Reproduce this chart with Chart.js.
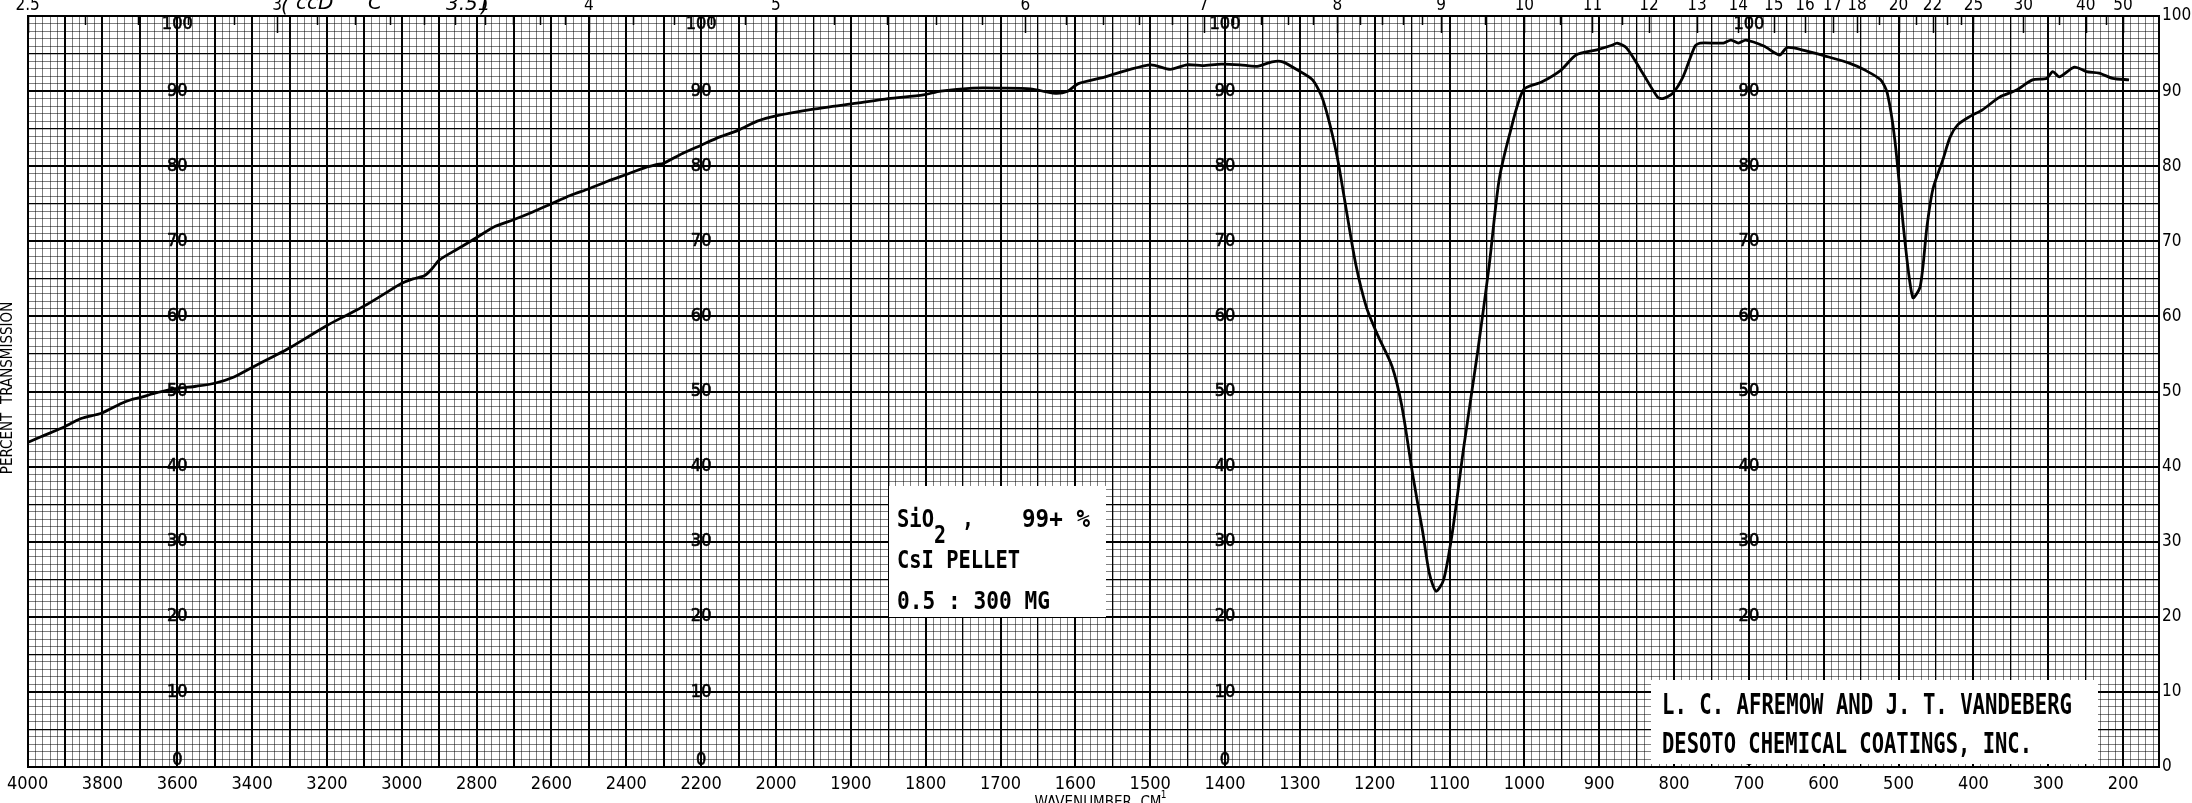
<!DOCTYPE html>
<html><head><meta charset="utf-8">
<script src="https://cdn.jsdelivr.net/npm/chart.js@4/dist/chart.umd.min.js"></script>
<style>html,body{margin:0;padding:0;background:#fff;overflow:hidden}canvas{display:block}</style>
</head><body>
<canvas id="c" width="2192" height="803"></canvas>
<script>
// ---- data (wavenumber cm-1, percent transmission) ----
const wavenumbers = [4000,3963,3910,3857,3803,3750,3724,3700,3650,3600,3550,3500,3450,3400,3350,3300,3250,3200,3150,3100,3050,3000,2970,2940,2920,2900,2850,2800,2750,2700,2650,2600,2550,2500,2450,2400,2350,2320,2300,2250,2200,2150,2100,2050,2000,1950,1892,1850,1803,1780,1737,1700,1660,1627,1610,1596,1560,1530,1499,1473,1451,1430,1405,1380,1357,1337,1323,1303,1283,1269,1251,1238,1225,1211,1196,1177,1164,1149,1136,1127,1118,1108,1096,1081,1062,1047,1034,1019,1001,977,951,931,903,883,876,863,842,822,815,802,788,772,765,734,724,714,704,680,659,649,625,599,565,545,524,515,505,492,481,471,462,454,441,431,421,405,388,365,343,321,302,294,285,265,249,232,214,192];
const transmission = [43.2,44.0,45.1,46.4,47.1,48.4,48.9,49.2,49.9,50.4,50.7,51.1,51.9,53.2,54.5,55.8,57.3,58.8,60.1,61.4,62.9,64.4,65.0,65.4,66.3,67.5,69.0,70.5,72.0,72.9,73.9,75.0,76.1,77.0,78.0,78.9,79.8,80.2,80.4,81.7,82.8,83.9,84.8,86.0,86.7,87.6,88.4,89.0,89.5,90.0,90.4,90.4,90.3,89.7,90.0,91.0,91.9,92.8,93.5,92.9,93.5,93.4,93.6,93.5,93.3,93.9,93.9,92.8,91.5,88.8,81.7,74.2,66.8,61.2,57.5,53.4,48.2,38.8,31.4,25.8,23.4,24.9,31.4,42.6,55.6,66.8,78.0,84.5,90.2,91.2,92.8,94.8,95.5,96.1,96.4,95.7,92.4,89.2,89.0,89.7,91.9,96.0,96.4,96.4,96.8,96.4,96.8,96.0,94.8,95.8,95.4,94.7,93.7,92.8,91.5,89.7,83.5,70.5,62.5,64.0,72.0,77.0,80.8,83.9,85.5,86.6,87.5,89.2,90.1,91.5,91.7,92.6,91.9,93.2,92.6,92.4,91.7,91.5];
const wavenumberTickLabels = [4000,3800,3600,3400,3200,3000,2800,2600,2400,2200,2000,1900,1800,1700,1600,1500,1400,1300,1200,1100,1000,900,800,700,600,500,400,300,200];
const micronLabels = [2.5,3,4,5,6,7,8,9,10,11,12,13,14,15,16,17,18,20,22,25,30,40,50];
const micronMinorTicks = [2.6,2.7,2.8,2.9,3.1,3.2,3.3,3.4,3.5,3.6,3.7,3.8,3.9,4.2,4.4,4.6,4.8,5.2,5.4,5.6,5.8,6.2,6.4,6.6,6.8,7.2,7.4,7.6,7.8,8.2,8.4,8.6,8.8,9.5,10.5,11.5,19,21,23,24,35,45];
const percentLabels = [100,90,80,70,60,50,40,30,20,10,0];
const innerLabelColumns = [3600,2200,1400,700];
const sampleLines = ["CsI PELLET","0.5 : 300 MG"];
const creditLines = ["L. C. AFREMOW AND J. T. VANDEBERG","DESOTO CHEMICAL COATINGS, INC."];

// chart paper uses a 2x compressed scale above 2000 cm-1
function toU(w){ return w >= 2000 ? (4000 - w) / 2 : 1000 + (2000 - w); }
function fromU(u){ return u <= 1000 ? 4000 - 2*u : 2000 - (u - 1000); }

const NARROW = "'Liberation Sans Narrow','DejaVu Sans Condensed',sans-serif";
const MONO = "'DejaVu Sans Mono','Liberation Mono',monospace";
const UMAX = 2848;

const gridTicksX = []; for (let u = 0; u <= 2840; u += 10) gridTicksX.push({value:u});
const gridTicksY = []; for (let v = 0; v <= 100; v += 1) gridTicksY.push({value:v});

function xGridWidth(v){
  if (v <= 1000) return v % 50 === 0 ? 2 : 1;
  if (v % 100 === 0) return 2;
  if (v % 50 === 0) return 1.3;
  return 1;
}
function xGridColor(v){
  if (v % 50 === 0) return '#000';
  return 'rgba(0,0,0,0.5)';
}

const overlay = {
  id:'overlay',
  afterDraw(chart){
    const ctx = chart.ctx, xs = chart.scales.x, ys = chart.scales.y, ca = chart.chartArea;
    ctx.save();
    ctx.fillStyle = '#000'; ctx.strokeStyle = '#000';
    // in-plot percent labels
    ctx.font = '18px ' + NARROW; ctx.textAlign = 'center'; ctx.textBaseline = 'middle';
    ctx.lineWidth = 0.6;
    innerLabelColumns.forEach(w => {
      const px = xs.getPixelForValue(toU(w));
      percentLabels.forEach(p => {
        let py = ys.getPixelForValue(p);
        if (p === 100) py += 8; if (p === 0) py -= 7;
        ctx.fillText(String(p), px, py);
        ctx.strokeText(String(p), px, py);
      });
    });
    // top micron scale
    ctx.lineWidth = 1.5;
    micronMinorTicks.forEach(m => {
      const px = Math.round(xs.getPixelForValue(toU(10000/m))) + 0.5;
      ctx.beginPath(); ctx.moveTo(px, ca.top); ctx.lineTo(px, ca.top + 9); ctx.stroke();
    });
    ctx.font = '17px ' + NARROW; ctx.textBaseline = 'alphabetic';
    micronLabels.forEach(m => {
      const px = xs.getPixelForValue(toU(10000/m));
      ctx.beginPath(); ctx.moveTo(Math.round(px)+0.5, ca.top); ctx.lineTo(Math.round(px)+0.5, ca.top + 17); ctx.stroke();
      ctx.fillText(String(m), px, 10);
    });
    // handwritten note at top
    ctx.font = 'italic 20px DejaVu Sans'; ctx.textAlign = 'left';
    ctx.fillText('(', 281, 12); ctx.fillText('ccD', 296, 9); ctx.fillText('C', 368, 9); ctx.fillText('3.51', 446, 10); ctx.fillText(')', 481, 12);
    // axis titles
    ctx.font = '15px ' + NARROW; ctx.textAlign = 'center';
    ctx.fillText('WAVENUMBER  CM', 1098, 807);
    ctx.font = '10px ' + NARROW; ctx.fillText('-1', 1162, 798);
    ctx.save(); ctx.translate(12, 388); ctx.rotate(-Math.PI/2);
    ctx.font = '15px ' + NARROW; ctx.textBaseline = 'alphabetic';
    ctx.fillText('PERCENT  TRANSMISSION', 0, 0, 190); ctx.restore();
    // sample box
    ctx.fillStyle = '#fff'; ctx.fillRect(889, 486, 217, 131);
    ctx.fillStyle = '#000'; ctx.textAlign = 'left'; ctx.textBaseline = 'alphabetic';
    ctx.font = 'bold 25px ' + MONO;
    ctx.fillText('SiO', 897, 527, 37);
    ctx.fillText('2', 934, 543, 12);
    ctx.fillText(',', 962, 527, 12);
    ctx.fillText('99+ %', 1022, 527, 68);
    ctx.fillText(sampleLines[0], 897, 568, 123);
    ctx.fillText(sampleLines[1], 897, 609, 153);
    // credit box
    ctx.fillStyle = '#fff'; ctx.fillRect(1651, 680, 447, 84);
    ctx.fillStyle = '#000'; ctx.font = 'bold 28px ' + MONO;
    ctx.fillText(creditLines[0], 1662, 714, 410);
    ctx.fillText(creditLines[1], 1662, 753, 370);
    ctx.restore();
  }
};

new Chart(document.getElementById('c'), {
  type:'line',
  data:{ datasets:[{
    data: wavenumbers.map((w,i)=>({x:toU(w), y:transmission[i]})),
    borderColor:'#000', borderWidth:2.8, pointRadius:0, tension:0.25, fill:false
  }]},
  options:{
    responsive:false, animation:false, events:[], devicePixelRatio:1,
    layout:{padding:{left:16,top:0,right:0,bottom:0}},
    plugins:{legend:{display:false}, tooltip:{enabled:false}},
    scales:{
      x:{ type:'linear', position:'bottom', min:0, max:UMAX,
        afterBuildTicks(a){ a.ticks = gridTicksX.map(t=>({value:t.value})); },
        afterFit(a){ a.height = 36; },
        grid:{ drawTicks:false, color:c=>xGridColor(c.tick.value), lineWidth:c=>xGridWidth(c.tick.value) },
        border:{ display:true, color:'#000', width:2 },
        ticks:{ autoSkip:false, maxRotation:0, minRotation:0, padding:7, color:'#000',
          font:{size:18, family:NARROW},
          callback:v => (v % 50 === 0 && wavenumberTickLabels.includes(fromU(v))) ? String(fromU(v)) : '' }
      },
      xTop:{ type:'linear', position:'top', min:0, max:UMAX,
        afterFit(a){ a.height = 16; },
        grid:{ drawOnChartArea:false, drawTicks:false },
        border:{ display:true, color:'#000', width:2 },
        ticks:{ display:false }
      },
      y:{ type:'linear', position:'left', min:0, max:100,
        afterBuildTicks(a){ a.ticks = gridTicksY.map(t=>({value:t.value})); },
        afterFit(a){ a.width = 0; },
        grid:{ drawTicks:false,
          color:c=> c.tick.value % 5 === 0 ? '#000' : 'rgba(0,0,0,0.5)',
          lineWidth:c=> c.tick.value % 10 === 0 ? 2 : (c.tick.value % 5 === 0 ? 1.3 : 1) },
        border:{ display:true, color:'#000', width:2 },
        ticks:{ display:false }
      },
      yR:{ type:'linear', position:'right', min:0, max:100,
        afterBuildTicks(a){ a.ticks = percentLabels.map(p=>({value:p})); },
        afterFit(a){ a.width = 33; },
        grid:{ drawOnChartArea:false, drawTicks:false },
        border:{ display:true, color:'#000', width:2 },
        ticks:{ padding:3, color:'#000', font:{size:17, family:NARROW}, callback:v=>String(v) }
      }
    }
  },
  plugins:[overlay]
});
</script>
</body></html>
